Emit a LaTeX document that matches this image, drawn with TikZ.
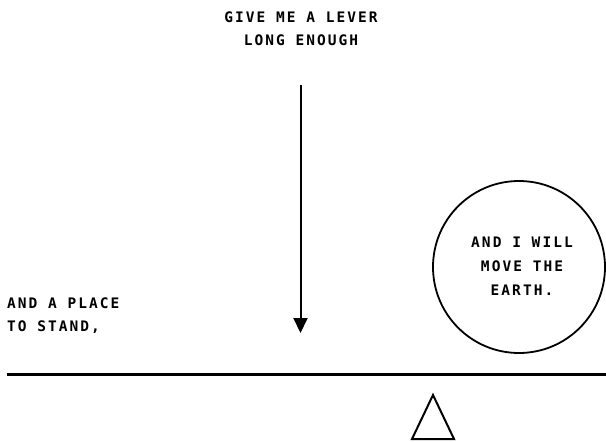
\documentclass[tikz,border=0pt]{standalone}
\usepackage{fontspec}
\usetikzlibrary{arrows.meta}
\newfontfamily\pixfont[LetterSpace=14]{DejaVu Sans Mono Bold}
\begin{document}
\begin{tikzpicture}[x=1pt,y=-1pt,
  lbl/.style={font=\pixfont\fontsize{14.5}{23}\selectfont, inner sep=0pt}]
\useasboundingbox (0,0) rectangle (606,442);
\node[lbl, align=center] (lever) at (301,28.5) {GIVE ME A LEVER\\LONG ENOUGH};
\node[lbl, align=left, anchor=west] (place) at (7,315.5) {AND A PLACE\\TO STAND,};
\node[draw, circle, line width=1.8pt, minimum size=172pt] (earth) at (519,267) {};
\node[lbl, align=center, font=\pixfont\fontsize{14.5}{24}\selectfont] (move) at (522,266.5) {AND I WILL\\MOVE THE\\EARTH.};
\coordinate (push) at (300.5,85);
\coordinate (tip) at (300.5,333);
\draw[-{Triangle[length=15pt,width=14pt]}, line width=2pt] (push) -- (tip);
\coordinate (bar-l) at (7,374);
\coordinate (bar-r) at (606,374);
\draw[line width=3pt] (bar-l) -- (bar-r);
\coordinate (fulcrum) at (433,395);
\draw[line width=2pt, line join=miter] (fulcrum) -- (454,439) -- (412,439) -- cycle;
\end{tikzpicture}
\end{document}
